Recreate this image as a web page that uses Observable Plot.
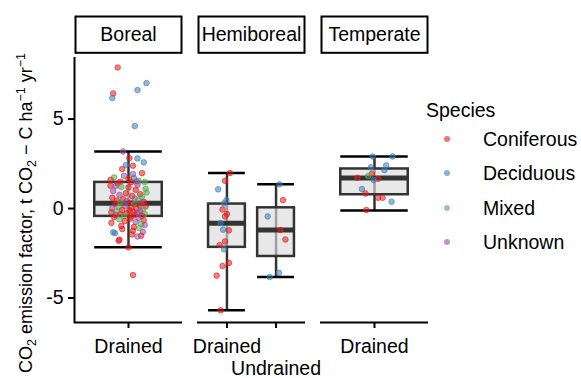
<!DOCTYPE html>
<html><head><meta charset="utf-8">
<script src="https://cdn.jsdelivr.net/npm/d3@7"></script>
<script src="https://cdn.jsdelivr.net/npm/@observablehq/plot@0.6"></script>
<style>
body{margin:0;background:#fff;}
#wrap{position:relative;width:581px;height:378px;font-family:"Liberation Sans",Arial,sans-serif;overflow:hidden;}
#legend{position:absolute;left:426px;top:98px;font-size:19.5px;color:#000;}
#legend .ttl{height:24px;line-height:24px;}
#legend .row{position:relative;height:34.3px;line-height:34.3px;}
#legend .dot{position:absolute;left:18px;top:14px;width:6px;height:6px;border-radius:50%;}
#legend .lab{position:absolute;left:57px;top:0;}
</style></head><body><div id="wrap"></div>
<script>
// ---- data ----
const regions = ["Boreal", "Hemiboreal", "Temperate"];
const drainageLevels = {Boreal: ["Drained"], Hemiboreal: ["Drained", "Undrained"], Temperate: ["Drained"]};
const speciesNames = ["Coniferous", "Deciduous", "Mixed", "Unknown"];
const speciesCodes = {C: "Coniferous", D: "Deciduous", M: "Mixed", U: "Unknown"};
const speciesColors = ["#E41A1C", "#377EB8", "#4DAF4A", "#984EA3"];
const yTicks = [-5, 0, 5];
const yDomain = [-6.37, 8.44];

// box statistics per group
const groupRegion   = ["Boreal", "Hemiboreal", "Hemiboreal", "Temperate"];
const groupDrainage = ["Drained", "Drained", "Undrained", "Drained"];
const whiskerLow    = [-2.17, -5.69, -3.83, -0.11];
const lowerQuartile = [-0.44, -2.17, -2.68, 0.77];
const medianValue   = [0.29, -0.83, -1.20, 1.70];
const upperQuartile = [1.46, 0.25, 0.04, 2.21];
const whiskerHigh   = [3.19, 1.98, 1.35, 2.91];

// points: Boreal / Drained
const borealValues = [7.88, 7.01, 6.62, 6.43, 6.17, 4.61,
  3.19, 2.82, 2.80, 2.58, 2.43, 2.39, 2.21, 1.98, 1.93, 1.83, 1.74, 1.70, 1.66, 1.60, 1.55, 1.52, 1.50, 1.48, 1.47,
  1.40, 1.33, 1.27, 1.27, 1.20, 1.18, 1.10, 1.05, 0.98, 0.90, 0.85, 0.80, 0.76, 0.70, 0.66, 0.60, 0.55, 0.52, 0.48, 0.45, 0.40, 0.38, 0.35, 0.32, 0.30,
  0.27, 0.24, 0.20, 0.15, 0.12, 0.08, 0.05, 0.02, -0.02, -0.05, -0.08, -0.10, -0.13, -0.16, -0.18, -0.21, -0.24, -0.27, -0.30, -0.32, -0.35, -0.38, -0.40, -0.42, -0.44,
  -0.48, -0.52, -0.57, -0.61, -0.66, -0.70, -0.75, -0.80, -0.86, -0.92, -0.97, -1.03, -1.10, -1.15, -1.24, -1.30, -1.33, -1.38, -1.45, -1.52, -1.56, -1.74, -1.80, -2.17, -3.72];
const borealSpecies = ["C","D","D","C","D","D",
  "U","C","D","D","D","C","C","C","U","U","M","D","C","C","M","U","C","M","C",
  "C","U","C","U","M","C","M","C","U","M","C","C","U","C","M","C","U","C","M","C","U","C","M","C","U",
  "C","M","C","U","C","M","C","U","C","M","C","C","U","M","C","C","U","C","M","C","C","U","C","M","C",
  "C","U","C","M","C","C","U","C","M","U","C","C","M","C","C","U","D","D","C","C","U","C","C","C","C"];
const borealJitter = [-0.12, 0.20, 0.10, -0.17, -0.18, 0.07,
  -0.06, 0.01, 0.10, 0.17, -0.03, 0.05, -0.07, 0.15, 0.05, -0.05, -0.16, 0.06, 0.00, -0.20, 0.11, 0.09, -0.09, 0.18, 0.03,
  -0.12, 0.10, -0.20, -0.14, -0.08, 0.00, 0.19, 0.08, -0.17, 0.20, -0.03, 0.13, -0.10, 0.04, 0.15, -0.18, 0.07, -0.06, 0.11, -0.13, -0.02, 0.17, -0.09, 0.02, 0.14,
  -0.15, 0.06, 0.12, -0.04, 0.19, -0.11, 0.03, -0.18, 0.09, 0.16, -0.07, 0.01, 0.13, -0.13, 0.05, -0.19, 0.10, -0.02, 0.18, -0.09, 0.07, -0.14, 0.15, -0.05, 0.03,
  -0.16, 0.11, 0.02, -0.10, 0.17, -0.04, 0.08, -0.19, 0.14, 0.18, -0.08, 0.06, 0.12, -0.07, 0.05, 0.16, -0.17, -0.15, 0.04, 0.14, 0.10, -0.10, -0.11, 0.00, 0.05];

// points: Hemiboreal / Drained
const hemiDrainedValues  = [1.98, 1.55, 1.07, 0.47, 0.29, -0.05, -0.31, -0.44, -0.81, -1.18, -1.22, -1.84, -2.04, -2.28, -3.04, -3.21, -3.75, -5.69];
const hemiDrainedSpecies = ["C","C","D","D","D","C","C","C","D","D","C","C","C","D","C","C","C","C"];
const hemiDrainedJitter  = [0.06, -0.04, -0.18, -0.01, -0.06, -0.09, 0.00, -0.04, -0.13, -0.08, 0.04, -0.04, -0.15, -0.06, 0.04, -0.09, -0.21, -0.13];

// points: Hemiboreal / Undrained
const hemiUndrainedValues  = [1.35, 0.47, -0.44, -1.20, -1.73, -3.59, -3.83];
const hemiUndrainedSpecies = ["D","C","D","C","C","D","D"];
const hemiUndrainedJitter  = [0.07, 0.14, -0.17, 0.09, 0.19, 0.06, -0.13];

// points: Temperate / Drained
const tempValues  = [2.91, 2.91, 2.41, 2.30, 2.15, 1.94, 1.82, 1.72, 1.66, 1.59, 1.09, 0.84, 0.60, 0.60, 0.38, -0.08];
const tempSpecies = ["D","D","D","D","D","C","M","C","C","D","D","C","C","C","D","C"];
const tempJitter  = [-0.02, 0.20, 0.13, -0.04, 0.11, -0.03, -0.07, -0.19, 0.04, -0.01, -0.14, -0.10, 0.04, 0.09, 0.19, -0.09];

// ---- build tables ----
function catCenter(region, drainage) {
  const lv = drainageLevels[region];
  return (lv.indexOf(drainage) + 0.6) / (lv.length + 0.2);
}
function catUnit(region) { return 1 / (drainageLevels[region].length + 0.2); }

const boxes = groupRegion.map((r, i) => ({
  region: r, drainage: groupDrainage[i],
  lo: whiskerLow[i], q1: lowerQuartile[i], med: medianValue[i], q3: upperQuartile[i], hi: whiskerHigh[i],
  cx: catCenter(r, groupDrainage[i]),
  left: catCenter(r, groupDrainage[i]) - 0.375 * catUnit(r),
  right: catCenter(r, groupDrainage[i]) + 0.375 * catUnit(r)
}));

const points = [];
function addGroup(region, drainage, values, species, jitter) {
  values.forEach((v, i) => points.push({
    region, drainage, value: v, species: speciesCodes[species[i]],
    x: catCenter(region, drainage) + jitter[i] * catUnit(region)
  }));
}
addGroup("Boreal", "Drained", borealValues, borealSpecies, borealJitter);
addGroup("Hemiboreal", "Drained", hemiDrainedValues, hemiDrainedSpecies, hemiDrainedJitter);
addGroup("Hemiboreal", "Undrained", hemiUndrainedValues, hemiUndrainedSpecies, hemiUndrainedJitter);
addGroup("Temperate", "Drained", tempValues, tempSpecies, tempJitter);

const xTicks = [];
regions.forEach(r => drainageLevels[r].forEach((d, i) => xTicks.push({region: r, label: d, pos: catCenter(r, d), row: i % 2 + 1})));

// ---- plot ----
const svg = Plot.plot({
  width: 581, height: 378,
  marginLeft: 73, marginRight: 153, marginTop: 57, marginBottom: 56,
  style: {fontFamily: "'Liberation Sans', Arial, sans-serif", fontSize: "19.5px", color: "black", background: "white"},
  fx: {domain: regions, paddingInner: 0.1255, paddingOuter: 0, axis: null},
  x: {domain: [0, 1], axis: null},
  y: {domain: yDomain, axis: null},
  color: {domain: speciesNames, range: speciesColors},
  marks: [
    Plot.frame({stroke: "black", strokeWidth: 2, fill: "white", insetTop: -41, insetBottom: 269.7, insetLeft: 1, insetRight: 1}),
    Plot.text(regions, {fx: d => d, text: d => d, frameAnchor: "top", lineAnchor: "middle", dy: -22.5, fill: "black"}),
    Plot.ruleY([yDomain[0]], {stroke: "black", strokeWidth: 2}),
    Plot.ruleX([{region: "Boreal", x: 0}], {fx: "region", x: "x", stroke: "black", strokeWidth: 2, insetBottom: -1}),
    Plot.axisY({ticks: yTicks, tickSize: 6, tickPadding: 5, tickFormat: d => String(d), stroke: "black", strokeWidth: 2, fill: "black", label: null}),
    Plot.ruleX(xTicks, {fx: "region", x: "pos", insetTop: 265, insetBottom: -6, stroke: "black", strokeWidth: 2}),
    Plot.text(xTicks, {filter: d => d.row === 1, fx: "region", x: "pos", text: "label", frameAnchor: "bottom", lineAnchor: "middle", dy: 24.5, fill: "black"}),
    Plot.text(xTicks, {filter: d => d.row === 2, fx: "region", x: "pos", text: "label", frameAnchor: "bottom", lineAnchor: "middle", dy: 46.5, fill: "black"}),
    // error bars
    Plot.ruleX(boxes, {fx: "region", x: "cx", y1: "lo", y2: "hi", stroke: "#333", strokeWidth: 2.5}),
    Plot.ruleY(boxes, {fx: "region", y: "lo", x1: "left", x2: "right", stroke: "black", strokeWidth: 2.5}),
    Plot.ruleY(boxes, {fx: "region", y: "hi", x1: "left", x2: "right", stroke: "black", strokeWidth: 2.5}),
    // boxes
    Plot.rect(boxes, {fx: "region", x1: "left", x2: "right", y1: "q1", y2: "q3", fill: "#dcdcdc", fillOpacity: 0.65, stroke: "#333", strokeWidth: 2.5}),
    Plot.ruleY(boxes, {fx: "region", y: "med", x1: "left", x2: "right", stroke: "#333", strokeWidth: 5}),
    // jittered points
    Plot.dot(points, {fx: "region", x: "x", y: "value", fill: "species", stroke: "species", r: 2.8, strokeWidth: 1, fillOpacity: 0.55, strokeOpacity: 0.6})
  ]
});

// y-axis title with sub/superscripts
const t = d3.select(svg).append("text")
  .attr("transform", "translate(32,213) rotate(-90)")
  .attr("text-anchor", "middle")
  .attr("fill", "black")
  .style("font-size", "18px");
t.append("tspan").text("CO");
t.append("tspan").attr("dy", 4).style("font-size", "12.5px").text("2");
t.append("tspan").attr("dy", -4).text(" emission factor, t CO");
t.append("tspan").attr("dy", 4).style("font-size", "12.5px").text("2");
t.append("tspan").attr("dy", -4).text(" \u2212 C ha");
t.append("tspan").attr("dy", -7).style("font-size", "12.5px").text("\u22121");
t.append("tspan").attr("dy", 7).text(" yr");
t.append("tspan").attr("dy", -7).style("font-size", "12.5px").text("\u22121");

const wrap = document.getElementById("wrap");
wrap.appendChild(svg);

// legend
const lg = document.createElement("div");
lg.id = "legend";
const ttl = document.createElement("div");
ttl.className = "ttl"; ttl.textContent = "Species";
lg.appendChild(ttl);
speciesNames.forEach((s, i) => {
  const row = document.createElement("div"); row.className = "row";
  const dot = document.createElement("span"); dot.className = "dot";
  dot.style.background = speciesColors[i]; dot.style.opacity = 0.6;
  const lab = document.createElement("span"); lab.className = "lab"; lab.textContent = s;
  row.appendChild(dot); row.appendChild(lab); lg.appendChild(row);
});
wrap.appendChild(lg);
</script></body></html>
